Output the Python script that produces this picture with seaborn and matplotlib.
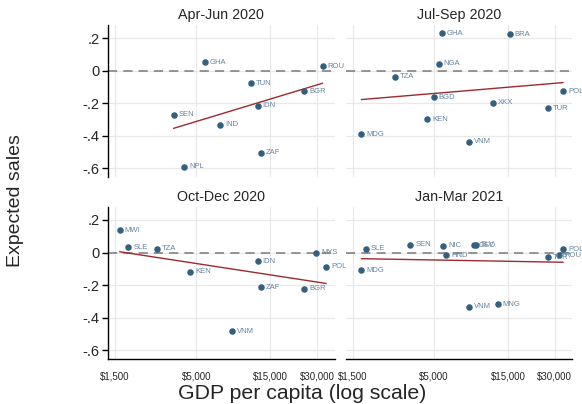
import numpy as np
import pandas as pd
import seaborn as sns
import matplotlib.pyplot as plt
from matplotlib.ticker import NullLocator

# values (GDP per capita in $, expected sales)
quarters = ['Apr-Jun 2020', 'Jul-Sep 2020', 'Oct-Dec 2020', 'Jan-Mar 2021']

apr_jun_iso = ['GHA', 'ROU', 'TUN', 'BGR', 'IDN', 'SEN', 'IND', 'ZAF', 'NPL']
apr_jun_gdp = [5710, 32500, 11300, 24700, 12400, 3570, 7100, 13100, 4180]
apr_jun_sales = [0.051, 0.026, -0.078, -0.127, -0.215, -0.27, -0.333, -0.505, -0.591]

jul_sep_iso = ['GHA', 'BRA', 'NGA', 'TZA', 'POL', 'BGD', 'XKX', 'TUR', 'KEN', 'MDG', 'VNM']
jul_sep_gdp = [5660, 15400, 5380, 2800, 34000, 5000, 12000, 27200, 4550, 1706, 8400]
jul_sep_sales = [0.231, 0.224, 0.043, -0.037, -0.128, -0.163, -0.198, -0.23, -0.298, -0.391, -0.436]

oct_dec_iso = ['MWI', 'SLE', 'TZA', 'MYS', 'IDN', 'POL', 'KEN', 'ZAF', 'BGR', 'VNM']
oct_dec_gdp = [1607, 1829, 2812, 29700, 12400, 34300, 4590, 13100, 24700, 8490]
oct_dec_sales = [0.138, 0.031, 0.024, 0.0, -0.053, -0.088, -0.118, -0.214, -0.224, -0.483]

jan_mar_iso = ['SLE', 'SEN', 'NIC', 'GEO', 'SLV', 'HND', 'POL', 'ROU', 'TUR', 'MDG', 'VNM', 'MNG']
jan_mar_gdp = [1820, 3530, 5740, 9060, 9330, 6010, 34000, 32000, 27300, 1706, 8400, 12900]
jan_mar_sales = [0.024, 0.049, 0.043, 0.045, 0.049, -0.018, 0.02, -0.016, -0.029, -0.108, -0.333, -0.319]

x_ticks = [1500, 5000, 15000, 30000]
x_ticklabels = ['$1,500', '$5,000', '$15,000', '$30,000']
y_ticks = [0.2, 0, -0.2, -0.4, -0.6]
y_ticklabels = ['.2', '0', '-.2', '-.4', '-.6']

frames = []
for q, iso, gdp, sales in zip(quarters,
                              [apr_jun_iso, jul_sep_iso, oct_dec_iso, jan_mar_iso],
                              [apr_jun_gdp, jul_sep_gdp, oct_dec_gdp, jan_mar_gdp],
                              [apr_jun_sales, jul_sep_sales, oct_dec_sales, jan_mar_sales]):
    frames.append(pd.DataFrame({'quarter': q, 'iso': iso, 'gdp': gdp, 'sales': sales}))
df = pd.concat(frames, ignore_index=True)

dot_col = '#34607f'
lab_col = '#6584a0'
fit_col = '#9e2a2f'

sns.set_theme(style='white')
plt.rcParams['font.family'] = ['Liberation Sans', 'DejaVu Sans']

fig, axes = plt.subplots(2, 2, figsize=(5.82, 4.04), dpi=100)
fig.subplots_adjust(left=0.1856, right=0.983, top=0.938, bottom=0.111, wspace=0.049, hspace=0.195)

for i, (ax, q) in enumerate(zip(axes.flat, quarters)):
    sub = df[df['quarter'] == q]
    ax.set_xscale('log')
    ax.grid(True, color='#e8e8e8', lw=0.9)
    ax.set_axisbelow(True)
    ax.axhline(0, color='#7a7a7a', ls='--', dashes=(6, 4), lw=1.1, zorder=1)
    sns.regplot(data=sub, x='gdp', y='sales', logx=True, scatter=False, ci=None,
                color=fit_col, line_kws={'lw': 1}, ax=ax)
    sns.scatterplot(data=sub, x='gdp', y='sales', s=22, color=dot_col, linewidth=0,
                    ax=ax, zorder=3)
    for _, r in sub.iterrows():
        ax.annotate(r['iso'], (r['gdp'], r['sales']), xytext=(3.5, 0), textcoords='offset points',
                    fontsize=5.5, va='center', color=lab_col)

    ax.set_xlim(1352, 38800)
    ax.set_ylim(-0.655, 0.28)
    ax.set_xticks(x_ticks)
    ax.set_xticklabels(x_ticklabels)
    ax.xaxis.set_minor_locator(NullLocator())
    ax.set_yticks(y_ticks)
    ax.set_yticklabels(y_ticklabels)
    ax.set_xlabel('')
    ax.set_ylabel('')
    ax.set_title(q, fontsize=10.3, pad=4)

    for s in ax.spines.values():
        s.set_visible(False)
    left_col = i % 2 == 0
    bottom_row = i >= 2
    if left_col:
        ax.spines['left'].set_visible(True)
        ax.spines['left'].set_color('black')
        ax.spines['left'].set_linewidth(1)
    if bottom_row:
        ax.spines['bottom'].set_visible(True)
        ax.spines['bottom'].set_color('black')
        ax.spines['bottom'].set_linewidth(1)
    ax.tick_params(axis='y', left=left_col, length=4, width=1, color='black',
                   labelleft=left_col, labelsize=10.5, pad=2)
    ax.tick_params(axis='x', bottom=False, labelbottom=bottom_row, labelsize=7, pad=3)

fig.text(0.519, 0.013, 'GDP per capita (log scale)', ha='center', va='baseline', fontsize=15.3)
fig.text(0.027, 0.503, 'Expected sales', rotation=90, ha='center', va='center', fontsize=14)

fig.savefig('out.png', dpi=100, facecolor='white')
